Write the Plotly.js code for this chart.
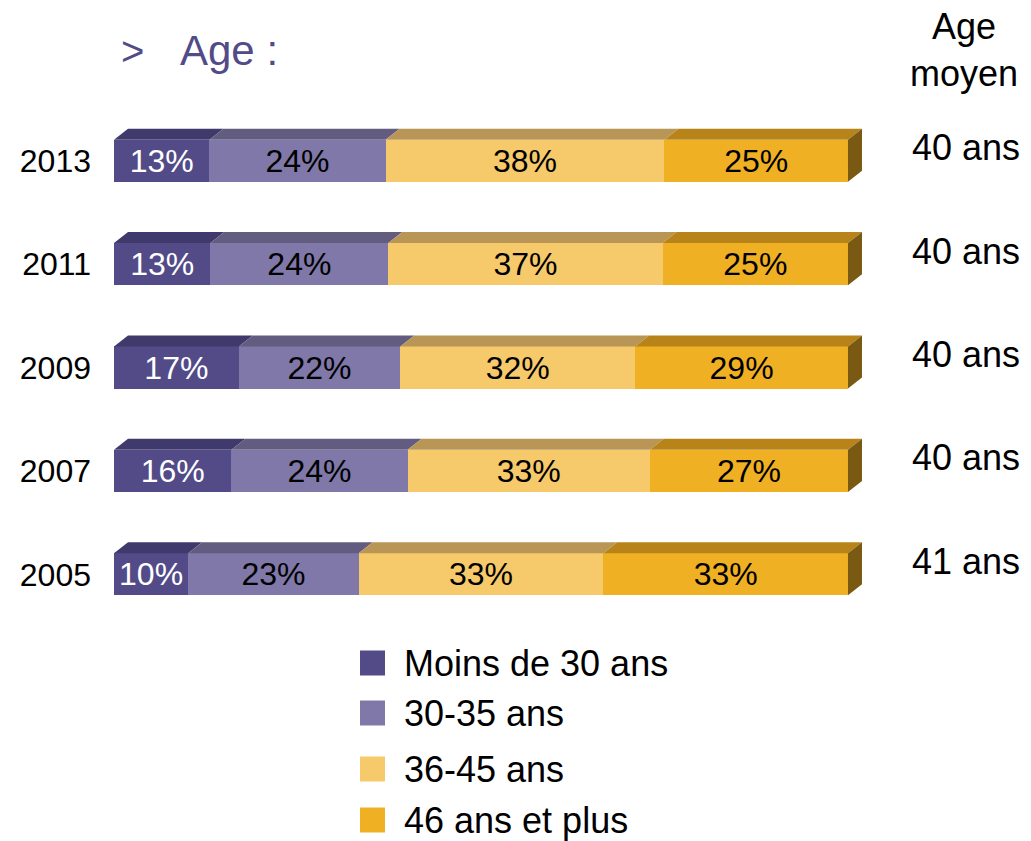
<!DOCTYPE html>
<html>
<head>
<meta charset="utf-8">
<script src="https://cdn.plot.ly/plotly-3.0.1.min.js"></script>
<style>
  html, body { margin: 0; padding: 0; background: #fff; }
  #chart { width: 1031px; height: 841px; }
</style>
</head>
<body>
<div id="chart"></div>
<script>
// Data
const years = [2013, 2011, 2009, 2007, 2005];
const groups = ['Moins de 30 ans', '30-35 ans', '36-45 ans', '46 ans et plus'];
const under30 = [13, 13, 17, 16, 10];
const age30to35 = [24, 24, 22, 24, 23];
const age36to45 = [38, 37, 32, 33, 33];
const age46plus = [25, 25, 29, 27, 33];
const ageMoyen = [40, 40, 40, 40, 41];

const series = [under30, age30to35, age36to45, age46plus];
const frontColors = ['#524b88', '#7f78a8', '#f6c96a', '#efb023'];
const topColors = ['#3f3a6b', '#625c80', '#b99656', '#b8841a'];
const sideColor = '#7a5a12';
const labelColors = ['#ffffff', '#000000', '#000000', '#000000'];

const FONT = 'Liberation Sans, Arial, sans-serif';
const W = 1031, H = 841;
const M = { l: 114, r: 161, t: 109, b: 215 };
const plotW = W - M.l - M.r, plotH = H - M.t - M.b;
const xMax = 103;
const barW = 0.814;
// depth of the fake 3D faces, in axis units
const dx = 14 / (plotW / xMax);
const dy = 11 / (plotH / 10);

// pixel -> paper helpers for layout furniture
const px = p => (p - M.l) / plotW;
const py = p => (H - M.b - p) / plotH;

const traces = series.map((vals, i) => ({
  type: 'bar',
  orientation: 'h',
  name: groups[i],
  y: years,
  x: vals,
  width: barW,
  text: vals.map(v => v + '%'),
  textposition: 'inside',
  insidetextanchor: 'middle',
  constraintext: 'none',
  textfont: { family: FONT, size: 32, color: labelColors[i] },
  marker: { color: frontColors[i], line: { width: 0 } },
  hoverinfo: 'skip'
}));

// top faces and right side face, built from the normalised stacks
const shapes = [];
years.forEach((yr, r) => {
  const vals = series.map(s => s[r]);
  const total = vals.reduce((a, b) => a + b, 0);
  const yTop = yr + barW / 2, yBot = yr - barW / 2;
  let cum = 0;
  vals.forEach((v, i) => {
    const x0 = cum / total * 100;
    cum += v;
    const x1 = cum / total * 100;
    shapes.push({
      type: 'path', xref: 'x', yref: 'y', layer: 'above',
      path: `M ${x0} ${yTop} L ${x1} ${yTop} L ${x1 + dx} ${yTop + dy} L ${x0 + dx} ${yTop + dy} Z`,
      fillcolor: topColors[i], line: { width: 0 }
    });
  });
  shapes.push({
    type: 'path', xref: 'x', yref: 'y', layer: 'above',
    path: `M 100 ${yBot} L ${100 + dx} ${yBot + dy} L ${100 + dx} ${yTop + dy} L 100 ${yTop} Z`,
    fillcolor: sideColor, line: { width: 0 }
  });
});

// legend drawn by hand so the swatches can be large
const legendY = [663, 713, 769, 820];
const annotations = [];
groups.forEach((g, i) => {
  shapes.push({
    type: 'rect', xref: 'paper', yref: 'paper',
    x0: px(360), x1: px(385), y0: py(legendY[i] + 12.5), y1: py(legendY[i] - 12.5),
    fillcolor: frontColors[i], line: { width: 0 }
  });
  annotations.push({
    xref: 'paper', yref: 'paper', x: px(402), y: py(legendY[i]),
    xanchor: 'left', yanchor: 'middle', showarrow: false,
    text: g, font: { family: FONT, size: 36, color: '#000' }
  });
});

// title
annotations.push({
  xref: 'paper', yref: 'paper', x: px(119), y: py(51), xanchor: 'left', yanchor: 'middle',
  showarrow: false, text: '>', font: { family: FONT, size: 40, color: '#524b88' }
});
annotations.push({
  xref: 'paper', yref: 'paper', x: px(178), y: py(50), xanchor: 'left', yanchor: 'middle',
  showarrow: false, text: 'Age :', font: { family: FONT, size: 42, color: '#524b88' }
});

// average age column
annotations.push({
  xref: 'paper', yref: 'paper', x: px(964), y: py(50), xanchor: 'center', yanchor: 'middle',
  showarrow: false, align: 'center', text: 'Age<br>moyen',
  font: { family: FONT, size: 36, color: '#000' }
});
years.forEach((yr, r) => {
  annotations.push({
    xref: 'paper', yref: 'y', x: px(966), y: yr, yshift: 13,
    xanchor: 'center', yanchor: 'middle', showarrow: false,
    text: ageMoyen[r] + ' ans', font: { family: FONT, size: 36, color: '#000' }
  });
});

const layout = {
  width: W, height: H,
  margin: M,
  paper_bgcolor: '#fff', plot_bgcolor: '#fff',
  barmode: 'stack',
  barnorm: 'percent',
  showlegend: false,
  xaxis: { range: [0, xMax], visible: false, fixedrange: true },
  yaxis: {
    range: [2004, 2014], tickvals: years, ticktext: years.map(String),
    showgrid: false, zeroline: false, showline: false, ticks: '',
    ticklabelstandoff: 22,
    tickfont: { family: FONT, size: 32, color: '#000' }, fixedrange: true
  },
  shapes: shapes,
  annotations: annotations
};

Plotly.newPlot('chart', traces, layout, { displayModeBar: false, staticPlot: true });
</script>
</body>
</html>
